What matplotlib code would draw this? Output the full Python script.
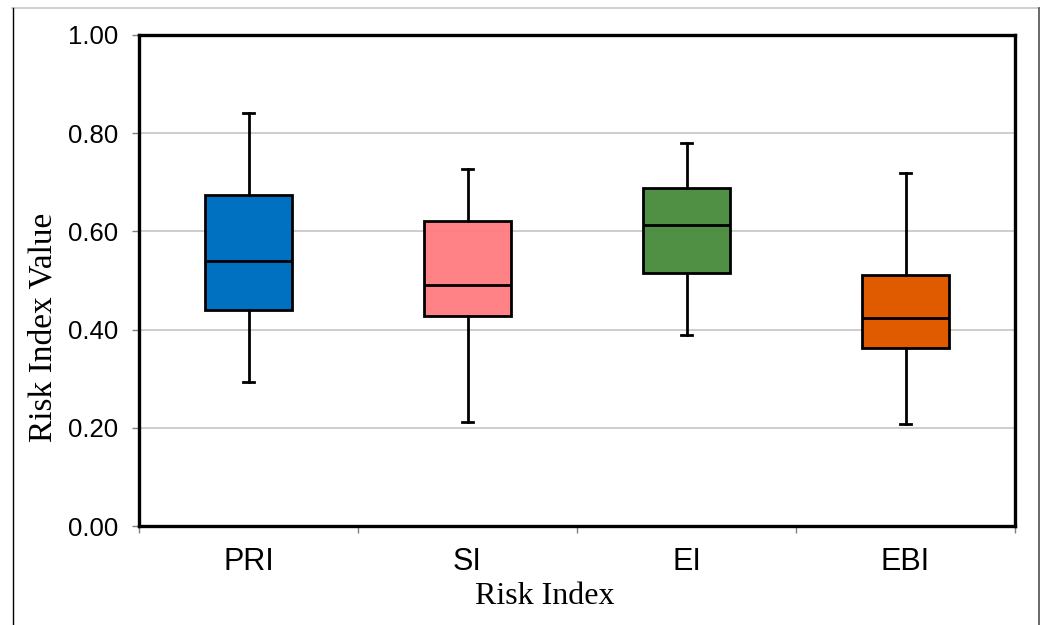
import matplotlib
matplotlib.use("Agg")
import matplotlib.pyplot as plt
from matplotlib.lines import Line2D
import numpy as np

# five-number summaries per risk index
categories = ["PRI", "SI", "EI", "EBI"]
whisker_low = [0.294, 0.212, 0.389, 0.208]
q1 = [0.440, 0.428, 0.515, 0.363]
median = [0.540, 0.491, 0.613, 0.424]
q3 = [0.674, 0.621, 0.688, 0.511]
whisker_high = [0.841, 0.728, 0.780, 0.719]

box_colors = ["#0070C0", "#FF7C80", "#4A8C3F", "#E05A00"]
box_alpha = [1.0, 0.95, 0.97, 1.0]

yticks = [0.0, 0.2, 0.4, 0.6, 0.8, 1.0]

fig = plt.figure(figsize=(10.46, 6.25), dpi=100)
ax = fig.add_axes([0.1329, 0.1584, 0.9704 - 0.1329, 0.944 - 0.1584])

stats = []
for i, name in enumerate(categories):
    stats.append(dict(label=name, whislo=whisker_low[i], q1=q1[i], med=median[i],
                      q3=q3[i], whishi=whisker_high[i], fliers=[]))

positions = np.arange(1, len(categories) + 1)
bp = ax.bxp(stats, positions=positions, widths=0.4, patch_artist=True,
            showfliers=False, capwidths=0.05,
            boxprops=dict(linewidth=2.0, edgecolor="black"),
            medianprops=dict(color="black", linewidth=2.0),
            whiskerprops=dict(color="black", linewidth=2.0),
            capprops=dict(color="black", linewidth=2.0))
for patch, c, a in zip(bp["boxes"], box_colors, box_alpha):
    patch.set_facecolor(matplotlib.colors.to_rgba(c, a))
    patch.set_zorder(3)
for key in ["medians", "whiskers", "caps"]:
    for ln in bp[key]:
        ln.set_zorder(4)

ax.set_xlim(0.5, len(categories) + 0.5)
ax.set_ylim(0, 1.0)
ax.set_yticks(yticks)
ax.set_yticklabels([f"{v:.2f}" for v in yticks], fontfamily="Liberation Sans", fontsize=18.5)

ax.set_xticks(positions)
ax.set_xticklabels(categories, fontfamily="Liberation Sans", fontsize=22)
ax.set_xticks(np.arange(0.5, len(categories) + 1, 1.0), minor=True)
ax.tick_params(axis="x", which="major", length=0, pad=15)
ax.tick_params(axis="x", which="minor", length=5, width=1, color="#808080", direction="out")
ax.tick_params(axis="y", length=5, width=1, color="#808080", direction="out", pad=10)

for v in yticks[1:-1]:
    ax.axhline(v, color="#C0C0C0", linewidth=1.1, zorder=1)

for s in ax.spines.values():
    s.set_linewidth(2.4)
    s.set_color("black")

ax.set_xlabel("Risk Index", fontfamily="Liberation Serif", fontsize=23, labelpad=3)
ax.xaxis.set_label_coords(0.463, -0.115)
ax.set_ylabel("Risk Index Value", fontfamily="Liberation Serif", fontsize=24)
ax.yaxis.set_label_coords(-0.092, 0.405)

# outer chart frame
fig.add_artist(Line2D([12 / 1046, 1039 / 1046], [1 - 8 / 625, 1 - 8 / 625],
                      transform=fig.transFigure, color="#C8C8C8", linewidth=1.2))
fig.add_artist(Line2D([12.5 / 1046, 12.5 / 1046], [0, 1 - 8 / 625],
                      transform=fig.transFigure, color="black", linewidth=1.0))
fig.add_artist(Line2D([1039 / 1046, 1039 / 1046], [0, 1 - 8 / 625],
                      transform=fig.transFigure, color="#505050", linewidth=1.2))

fig.savefig("out.png", dpi=100)
